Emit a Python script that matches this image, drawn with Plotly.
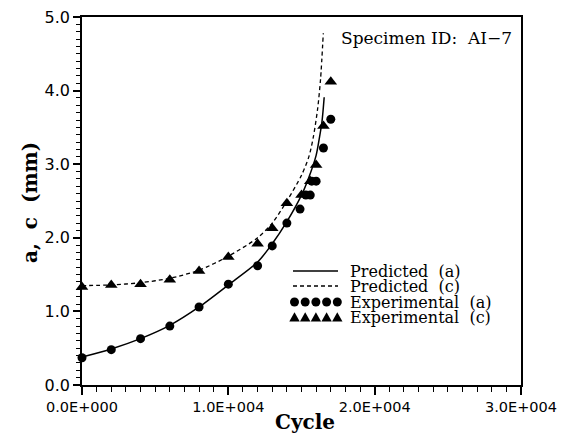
import plotly.graph_objects as go

# ---- data ----
pred_a_cycles = [0, 2000, 4000, 6000, 8000, 10000, 12000, 13000, 14000, 15000, 15500, 16000, 16200, 16400, 16550]
pred_a_mm = [0.38, 0.49, 0.63, 0.81, 1.06, 1.36, 1.67, 1.92, 2.22, 2.58, 2.82, 3.12, 3.33, 3.58, 3.91]

pred_c_cycles = [0, 2000, 4000, 6000, 8000, 10000, 12000, 13000, 14000, 15000, 15500, 15810, 16100, 16300, 16490]
pred_c_mm = [1.35, 1.36, 1.39, 1.45, 1.56, 1.75, 2.00, 2.20, 2.50, 2.85, 3.10, 3.37, 3.75, 4.15, 4.78]

exp_a_cycles = [0, 2000, 4000, 6000, 8000, 10000, 12000, 13000, 14000, 14900, 15300, 15600, 15700, 16000, 16500, 17000]
exp_a_mm = [0.37, 0.48, 0.63, 0.80, 1.06, 1.37, 1.62, 1.89, 2.20, 2.39, 2.58, 2.58, 2.77, 2.77, 3.22, 3.61]

exp_c_cycles = [0, 2000, 4000, 6000, 8000, 10000, 12000, 13000, 14000, 15000, 15600, 16000, 16500, 17000]
exp_c_mm = [1.33, 1.36, 1.37, 1.43, 1.55, 1.74, 1.92, 2.13, 2.47, 2.58, 2.77, 2.99, 3.52, 4.12]

x_tick_vals = [0, 10000, 20000, 30000]
x_tick_text = ["0.0E+000", "1.0E+004", "2.0E+004", "3.0E+004"]
y_tick_vals = [0, 1, 2, 3, 4, 5]
y_tick_text = ["0.0", "1.0", "2.0", "3.0", "4.0", "5.0"]

legend_labels = ["Predicted  (a)", "Predicted  (c)", "Experimental  (a)", "Experimental  (c)"]

# ---- layout geometry (pixels) ----
W, H = 564, 435
ML, MR, MT, MB = 82, 43, 17, 50
PW, PH = W - ML - MR, H - MT - MB


def px(xp):
    return (xp - ML) / PW


def py(yp):
    return (H - MB - yp) / PH


SERIF = "DejaVu Serif"
SANS = "DejaVu Sans"

fig = go.Figure()
fig.add_trace(go.Scatter(x=pred_a_cycles, y=pred_a_mm, mode="lines",
                         line=dict(color="black", width=1.5, shape="spline", smoothing=0.8),
                         showlegend=False))
fig.add_trace(go.Scatter(x=pred_c_cycles, y=pred_c_mm, mode="lines",
                         line=dict(color="black", width=1.3, dash="4px,3px", shape="spline", smoothing=0.8),
                         showlegend=False))
fig.add_trace(go.Scatter(x=exp_a_cycles, y=exp_a_mm, mode="markers",
                         marker=dict(symbol="circle", size=9, color="black"),
                         cliponaxis=False, showlegend=False))
fig.add_trace(go.Scatter(x=exp_c_cycles, y=exp_c_mm, mode="markers",
                         marker=dict(symbol="triangle-up", size=11, color="black"),
                         cliponaxis=False, showlegend=False))

shapes = []
annotations = []

# manual legend
rows = [271, 286, 302, 317]
shapes.append(dict(type="line", xref="paper", yref="paper", x0=px(293), x1=px(338),
                   y0=py(rows[0]), y1=py(rows[0]), line=dict(color="black", width=1.5)))
shapes.append(dict(type="line", xref="paper", yref="paper", x0=px(293), x1=px(338),
                   y0=py(rows[1]), y1=py(rows[1]), line=dict(color="black", width=1.3, dash="4px,3px")))
for i in range(5):
    cx = 294.5 + i * 10.7
    r = 4.5
    shapes.append(dict(type="circle", xref="paper", yref="paper",
                       x0=px(cx - r), x1=px(cx + r), y0=py(rows[2] + r), y1=py(rows[2] - r),
                       fillcolor="black", line=dict(color="black", width=0)))
    tx = cx
    ty = rows[3]
    path = "M {} {} L {} {} L {} {} Z".format(px(tx - 5.2), py(ty + 4.5), px(tx + 5.2), py(ty + 4.5), px(tx), py(ty - 4.8))
    shapes.append(dict(type="path", xref="paper", yref="paper", path=path,
                       fillcolor="black", line=dict(color="black", width=0)))

for lbl, ry in zip(legend_labels, rows):
    annotations.append(dict(text=lbl, xref="paper", yref="paper", x=px(349), y=py(ry),
                            xanchor="left", yanchor="middle", showarrow=False, borderpad=0,
                            font=dict(family=SERIF, size=16, color="black")))

annotations.append(dict(text="Specimen ID:  AI\u22127", xref="paper", yref="paper", x=px(339), y=py(38),
                        xanchor="left", yanchor="middle", showarrow=False,
                        font=dict(family=SERIF, size=17, color="black")))

# axis titles
annotations.append(dict(text="<b>Cycle</b>", xref="paper", yref="paper", x=px(305), y=py(422),
                        xanchor="center", yanchor="middle", showarrow=False,
                        font=dict(family=SERIF, size=20, color="black")))
annotations.append(dict(text="<b>a,  c  (mm)</b>", xref="paper", yref="paper", x=px(30), y=py(203),
                        xanchor="center", yanchor="middle", showarrow=False, textangle=-90,
                        font=dict(family=SERIF, size=20, color="black")))

fig.update_layout(
    width=W, height=H,
    margin=dict(l=ML, r=MR, t=MT, b=MB, pad=0),
    paper_bgcolor="white", plot_bgcolor="white",
    showlegend=False,
    shapes=shapes, annotations=annotations,
    xaxis=dict(range=[0, 30000], tickmode="array", tickvals=x_tick_vals, ticktext=x_tick_text,
               showgrid=False, zeroline=False, showline=True, linecolor="black", linewidth=1.5,
               mirror=True, ticks="outside", ticklen=8, tickwidth=1.5, tickcolor="black",
               automargin=False,
               tickfont=dict(family=SANS, size=14.5, color="black"),
               minor=dict(tickmode="linear", tick0=0, dtick=1000, ticks="outside", ticklen=5,
                          tickwidth=1.2, tickcolor="black", showgrid=False)),
    yaxis=dict(range=[0, 5], tickmode="array", tickvals=y_tick_vals, ticktext=y_tick_text,
               showgrid=False, zeroline=False, showline=True, linecolor="black", linewidth=1.5,
               mirror=True, ticks="outside", ticklen=7, tickwidth=1.5, tickcolor="black",
               automargin=False,
               tickfont=dict(family=SANS, size=16, color="black"),
               minor=dict(tickmode="linear", tick0=0, dtick=0.1, ticks="outside", ticklen=4,
                          tickwidth=1.2, tickcolor="black", showgrid=False)),
)

fig.write_html("out.html")
